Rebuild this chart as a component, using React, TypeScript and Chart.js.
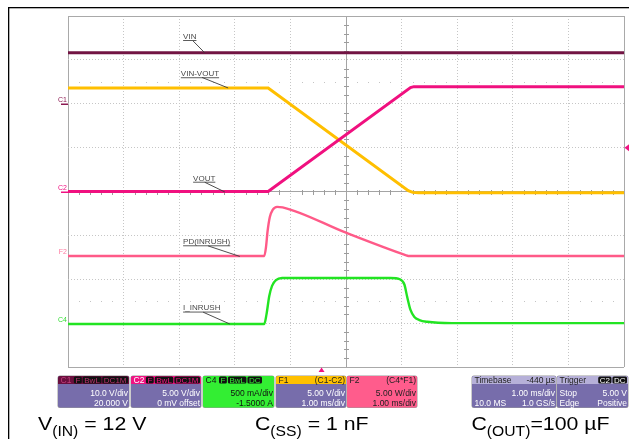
import React, { useEffect, useRef } from "react";
import { Chart, registerables } from "chart.js";

Chart.register(...registerables);

// ---------------- data (time in divisions of 1.00 ms, level in screen divisions) ----------------
const vinTime = [0, 10];
const vinLevel = [7.16, 7.16];

const vinVoutTime = [0, 3.6, 6.12, 6.2, 6.3, 10];
const vinVoutLevel = [6.36, 6.36, 4.02, 3.98, 3.97, 3.97];

const voutTime = [0, 3.6, 6.16, 6.22, 10];
const voutLevel = [4.0, 4.0, 6.37, 6.39, 6.39];

const pdTime = [0, 3.53, 3.56, 3.59, 3.63, 3.68, 3.76, 3.86, 5.0, 6.07, 6.12, 10];
const pdLevel = [2.53, 2.53, 2.72, 3.1, 3.42, 3.58, 3.65, 3.64, 3.06, 2.55, 2.53, 2.53];

const iTime = [0, 3.53, 3.57, 3.62, 3.67, 3.74, 3.85, 3.95, 5.8, 5.97, 6.05, 6.1, 6.16, 6.23, 6.32, 6.46, 6.9, 10];
const iLevel = [0.98, 0.98, 1.2, 1.62, 1.85, 1.98, 2.03, 2.03, 2.03, 2.0, 1.88, 1.6, 1.3, 1.14, 1.07, 1.03, 1.0, 1.0];

const traceNames = ["VIN", "VIN-VOUT", "VOUT", "PD(INRUSH)", "I_INRUSH"];

const triggerTime = 4.56; // -440 µs from centre
const triggerLevel = 5.0; // C2 5.00 V at 5.00 V/div above C2 zero (4 div)

const chC1 = ["C1", "10.0 V/div", "20.000 V"];
const chC2 = ["C2", "5.00 V/div", "0 mV offset"];
const chC4 = ["C4", "500 mA/div", "-1.5000 A"];
const chF1 = ["F1", "(C1-C2)", "5.00 V/div", "1.00 ms/div"];
const chF2 = ["F2", "(C4*F1)", "5.00 W/div", "1.00 ms/div"];
const timebase = ["Timebase", "-440 µs", "1.00 ms/div", "10.0 MS", "1.0 GS/s"];
const trigger = ["Trigger", "Stop", "5.00 V", "Edge", "Positive"];

const W = 629;
const H = 439;
const FONT = "'Liberation Sans', Arial, sans-serif";

// label layout: [textX, textBaselineY, leaderFromX, leaderFromY, leaderToX, leaderToY] (in axis units)
const labelLayout: number[][] = [
  [2.07, 7.48, 2.25, 7.43, 2.46, 7.16],
  [2.03, 6.63, 2.41, 6.6, 2.88, 6.36],
  [2.25, 4.25, 2.46, 4.21, 2.82, 3.99],
  [2.07, 2.8, 2.52, 2.76, 3.09, 2.52],
  [2.07, 1.29, 2.43, 1.25, 2.91, 0.98],
];

function rrect(ctx: CanvasRenderingContext2D, x: number, y: number, w: number, h: number, r: number) {
  ctx.beginPath();
  ctx.moveTo(x + r, y);
  ctx.lineTo(x + w - r, y);
  ctx.quadraticCurveTo(x + w, y, x + w, y + r);
  ctx.lineTo(x + w, y + h - r);
  ctx.quadraticCurveTo(x + w, y + h, x + w - r, y + h);
  ctx.lineTo(x + r, y + h);
  ctx.quadraticCurveTo(x, y + h, x, y + h - r);
  ctx.lineTo(x, y + r);
  ctx.quadraticCurveTo(x, y, x + r, y);
  ctx.closePath();
}

interface BoxSpec {
  x: number;
  w: number;
  head: string;
  body: string;
  title: string;
  titleColor: string;
  headRight?: string;
  headRightColor?: string;
  tags?: string[];
  tagText?: string;
  tagsRight?: number;
  rows: [string, string][];
  rowColor: string;
}

function drawBox(ctx: CanvasRenderingContext2D, b: BoxSpec) {
  const top = 376;
  const h = 31.5;
  const hh = 8;
  ctx.save();
  // shadow / outline
  rrect(ctx, b.x - 0.5, top - 0.5, b.w + 1, h + 1, 2.5);
  ctx.fillStyle = "#9a9a9a";
  ctx.fill();
  rrect(ctx, b.x, top, b.w, h, 2);
  ctx.fillStyle = b.body;
  ctx.fill();
  ctx.save();
  rrect(ctx, b.x, top, b.w, h, 2);
  ctx.clip();
  ctx.fillStyle = b.head;
  ctx.fillRect(b.x, top, b.w, hh);
  ctx.restore();

  ctx.font = `8.5px ${FONT}`;
  ctx.textBaseline = "alphabetic";
  ctx.textAlign = "left";
  ctx.fillStyle = b.titleColor;
  ctx.fillText(b.title, b.x + 2.5, top + 7);
  if (b.headRight) {
    ctx.textAlign = "right";
    ctx.fillStyle = b.headRightColor || b.titleColor;
    ctx.fillText(b.headRight, b.x + b.w - 1, top + 7);
  }
  if (b.tags) {
    ctx.font = `8px ${FONT}`;
    let rx = b.x + b.w - 1 - (b.tagsRight || 0);
    for (let i = b.tags.length - 1; i >= 0; i--) {
      const t = b.tags[i];
      const tw = ctx.measureText(t).width + 3;
      rx -= tw;
      rrect(ctx, rx, top + 0.5, tw, hh - 1, 1.5);
      ctx.fillStyle = "#111";
      ctx.fill();
      ctx.fillStyle = b.tagText || "#fff";
      ctx.textAlign = "left";
      ctx.fillText(t, rx + 1.5, top + 6.8);
      rx -= 1;
    }
  }
  ctx.font = `8.5px ${FONT}`;
  ctx.fillStyle = b.rowColor;
  b.rows.forEach((r, i) => {
    const by = top + 20 + i * 10.2;
    if (r[0]) {
      ctx.textAlign = "left";
      ctx.fillText(r[0], b.x + 2.5, by);
    }
    if (r[1]) {
      ctx.textAlign = "right";
      ctx.fillText(r[1], b.x + b.w - 1, by);
    }
  });
  ctx.restore();
}

function drawRich(ctx: CanvasRenderingContext2D, x: number, base: number, parts: [string, boolean][]) {
  const sx = 1.12;
  let cx = x;
  ctx.save();
  ctx.fillStyle = "#000";
  ctx.textAlign = "left";
  ctx.textBaseline = "alphabetic";
  for (const [t, sub] of parts) {
    ctx.font = sub ? `14px ${FONT}` : `19px ${FONT}`;
    const w = ctx.measureText(t).width * sx;
    ctx.save();
    ctx.translate(cx, sub ? base + 5.5 : base);
    ctx.scale(sx, 1);
    ctx.fillText(t, 0, 0);
    ctx.restore();
    cx += w;
  }
  ctx.restore();
}

const scopePlugin = {
  id: "scopeDecor",
  beforeDatasetsDraw(chart: any) {
    const { ctx, scales } = chart;
    const x = scales.x;
    const y = scales.y;
    ctx.save();
    // minor dot rows
    ctx.fillStyle = "#c4c4c4";
    for (const lv of [6.5, 1.5]) {
      const py = Math.round(y.getPixelForValue(lv));
      for (let k = 1; k < 50; k++) {
        if (k % 5 === 0) continue;
        ctx.fillRect(Math.round(x.getPixelForValue(k * 0.2)), py, 1, 1);
      }
    }
    // centre axis ticks
    ctx.strokeStyle = "#9c9c9c";
    ctx.lineWidth = 1;
    const cx = Math.round(x.getPixelForValue(5)) + 0.5;
    const cy = Math.round(y.getPixelForValue(4)) + 0.5;
    ctx.beginPath();
    for (let k = 1; k < 40; k++) {
      if (k % 5 === 0) continue;
      const py = Math.round(y.getPixelForValue(k * 0.2)) + 0.5;
      ctx.moveTo(cx - 2.5, py);
      ctx.lineTo(cx + 2.5, py);
    }
    for (let k = 1; k < 50; k++) {
      if (k % 5 === 0) continue;
      const px = Math.round(x.getPixelForValue(k * 0.2)) + 0.5;
      ctx.moveTo(px, cy - 2.5);
      ctx.lineTo(px, cy + 2.5);
    }
    ctx.stroke();
    ctx.restore();
  },
  afterDraw(chart: any) {
    const { ctx, scales } = chart;
    const x = scales.x;
    const y = scales.y;
    ctx.save();
    // outer frame
    ctx.fillStyle = "#000";
    ctx.fillRect(8, 7, W - 8, 1.3);
    ctx.fillRect(8, 7, 1.3, H - 7);

    // trace labels with leaders
    ctx.font = `8px ${FONT}`;
    ctx.textAlign = "left";
    ctx.textBaseline = "alphabetic";
    traceNames.forEach((name, i) => {
      const L = labelLayout[i];
      const tx = x.getPixelForValue(L[0]);
      const ty = y.getPixelForValue(L[1]);
      ctx.fillStyle = "#4a4a4a";
      ctx.fillText(name, tx, ty);
      const w = ctx.measureText(name).width;
      ctx.fillRect(tx, ty + 1.2, w, 0.9);
      ctx.strokeStyle = "#3a3a3a";
      ctx.lineWidth = 0.9;
      ctx.beginPath();
      ctx.moveTo(x.getPixelForValue(L[2]), y.getPixelForValue(L[3]));
      ctx.lineTo(x.getPixelForValue(L[4]), y.getPixelForValue(L[5]));
      ctx.stroke();
    });

    // channel markers on the left
    const markers: [string, number, string, boolean][] = [
      ["C1", 6.0, "#8c1a52", true],
      ["C2", 4.0, "#f01282", true],
      ["F2", 2.53, "#ff7aa0", false],
      ["C4", 0.98, "#33dd33", false],
    ];
    ctx.font = `7px ${FONT}`;
    ctx.textAlign = "right";
    for (const [t, lv, col, bar] of markers) {
      const py = y.getPixelForValue(lv);
      ctx.fillStyle = col;
      ctx.fillText(t, 67, py - 2);
      if (bar) ctx.fillRect(61, Math.round(py) - 0.5, 7, 1.5);
    }

    // trigger markers
    ctx.fillStyle = "#f01282";
    const ty = y.getPixelForValue(triggerLevel);
    ctx.beginPath();
    ctx.moveTo(624.5, ty);
    ctx.lineTo(629, ty - 3.5);
    ctx.lineTo(629, ty + 3.5);
    ctx.closePath();
    ctx.fill();
    const tx = x.getPixelForValue(triggerTime);
    ctx.beginPath();
    ctx.moveTo(tx, 367.5);
    ctx.lineTo(tx - 3, 372);
    ctx.lineTo(tx + 3, 372);
    ctx.closePath();
    ctx.fill();

    // info boxes
    const lav = "#776dab";
    const boxes: BoxSpec[] = [
      { x: 58, w: 71, head: "#6a0f3e", body: lav, title: chC1[0], titleColor: "#c03d7a", tags: ["F", "BwL", "DC1M"], tagText: "#b8306e", rows: [["", chC1[1]], ["", chC1[2]]], rowColor: "#fff" },
      { x: 131, w: 70, head: "#f01282", body: lav, title: chC2[0], titleColor: "#fff", tags: ["F", "BwL", "DC1M"], tagText: "#f01282", rows: [["", chC2[1]], ["", chC2[2]]], rowColor: "#fff" },
      { x: 203, w: 71, head: "#33ee33", body: "#33ee33", title: chC4[0], titleColor: "#111", tags: ["F", "BwL", "DC"], tagText: "#33ee33", tagsRight: 11, rows: [["", chC4[1]], ["", chC4[2]]], rowColor: "#111" },
      { x: 276, w: 70, head: "#ffc000", body: lav, title: chF1[0], titleColor: "#222", headRight: chF1[1], rows: [["", chF1[2]], ["", chF1[3]]], rowColor: "#fff" },
      { x: 347, w: 70, head: "#ff5c8c", body: "#ff5c8c", title: chF2[0], titleColor: "#222", headRight: chF2[1], rows: [["", chF2[2]], ["", chF2[3]]], rowColor: "#222" },
      { x: 472, w: 84, head: "#b6b0d8", body: lav, title: timebase[0], titleColor: "#222", headRight: timebase[1], rows: [["", timebase[2]], [timebase[3], timebase[4]]], rowColor: "#fff" },
      { x: 557, w: 71, head: "#b6b0d8", body: lav, title: trigger[0], titleColor: "#222", tags: ["C2", "DC"], tagText: "#fff", rows: [[trigger[1], trigger[2]], [trigger[3], trigger[4]]], rowColor: "#fff" },
    ];
    boxes.forEach((b) => drawBox(ctx, b));

    // bottom conditions
    drawRich(ctx, 38, 430, [["V", false], ["(IN)", true], [" = 12 V", false]]);
    drawRich(ctx, 255, 430, [["C", false], ["(SS)", true], [" = 1 nF", false]]);
    drawRich(ctx, 471.5, 430, [["C", false], ["(OUT)", true], ["=100 µF", false]]);
    ctx.restore();
  },
};

export default function App() {
  const ref = useRef<HTMLCanvasElement>(null);
  useEffect(() => {
    const canvas = ref.current!;
    const mk = (xs: number[], ys: number[]) => xs.map((t, i) => ({ x: t, y: ys[i] }));
    const gridColor = (edgeA: number, edgeB: number, mid: number) => (c: any) => {
      const v = c.tick ? c.tick.value : -1;
      if (v === edgeA || v === edgeB) return "#a9a9a9";
      if (v === mid) return "#a4a4a4";
      return "#c6c6c6";
    };
    const gridDash = (edgeA: number, edgeB: number, mid: number) => (c: any) => {
      const v = c.tick ? c.tick.value : -1;
      if (v === edgeA || v === edgeB || v === mid) return [];
      return [1, 2];
    };
    const chart = new Chart(canvas, {
      type: "line",
      data: {
        datasets: [
          { label: traceNames[0], data: mk(vinTime, vinLevel), borderColor: "#721443", borderWidth: 3 },
          { label: traceNames[2], data: mk(voutTime, voutLevel), borderColor: "#f0107f", borderWidth: 3 },
          { label: traceNames[1], data: mk(vinVoutTime, vinVoutLevel), borderColor: "#ffbf00", borderWidth: 3 },
          { label: traceNames[3], data: mk(pdTime, pdLevel), borderColor: "#ff5a88", borderWidth: 2.4, cubicInterpolationMode: "monotone" },
          { label: traceNames[4], data: mk(iTime, iLevel), borderColor: "#22e422", borderWidth: 2.4, cubicInterpolationMode: "monotone" },
        ] as any,
      },
      options: {
        responsive: false,
        animation: false,
        devicePixelRatio: 1,
        layout: { padding: { left: 68, top: 16, right: 5, bottom: 72 } },
        plugins: { legend: { display: false }, tooltip: { enabled: false } },
        elements: { point: { radius: 0 }, line: { tension: 0, borderCapStyle: "butt" } },
        scales: {
          x: {
            type: "linear",
            min: 0,
            max: 10,
            ticks: { display: false, stepSize: 1 },
            grid: { drawTicks: false, color: gridColor(0, 10, 5), lineWidth: 1 },
            border: { display: false, dash: gridDash(0, 10, 5) },
          },
          y: {
            type: "linear",
            min: 0,
            max: 8,
            ticks: { display: false, stepSize: 1 },
            grid: { drawTicks: false, color: gridColor(0, 8, 4), lineWidth: 1 },
            border: { display: false, dash: gridDash(0, 8, 4) },
          },
        },
      } as any,
      plugins: [scopePlugin],
    });
    return () => chart.destroy();
  }, []);
  return (
    <div style={{ position: "fixed", left: 0, top: 0, width: W, height: H, background: "#fff" }}>
      <canvas ref={ref} width={W} height={H} style={{ display: "block", width: W, height: H }} />
    </div>
  );
}
